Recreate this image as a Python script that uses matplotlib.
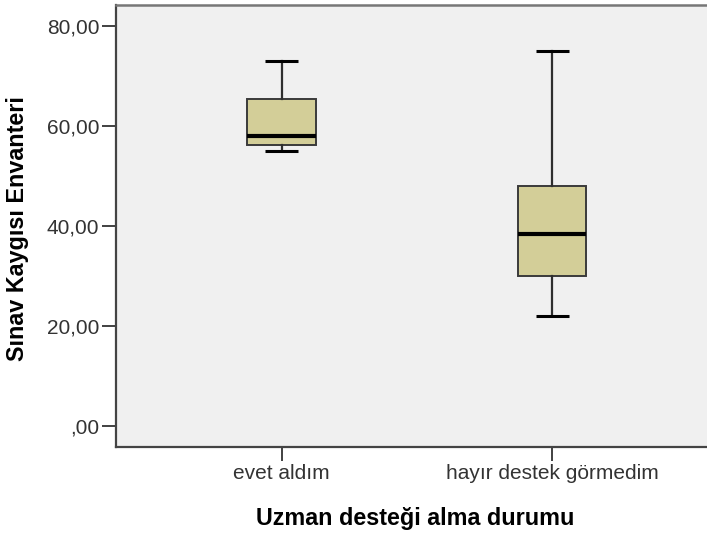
import matplotlib
matplotlib.use("Agg")
import matplotlib.pyplot as plt

categories = ["evet aldım", "hayır destek görmedim"]
whisker_low = [55.0, 22.0]
q1 = [56.2, 30.0]
median = [58.0, 38.5]
q3 = [65.4, 48.0]
whisker_high = [73.0, 75.0]
ytick_values = [0, 20, 40, 60, 80]
ytick_labels = [",00", "20,00", "40,00", "60,00", "80,00"]

plt.rcParams['font.family'] = ['Liberation Sans', 'DejaVu Sans']

W, H = 707, 536
fig = plt.figure(figsize=(W / 100, H / 100), dpi=100)
left, right, top, bottom = 116, 708, 5, 447
ax = fig.add_axes([left / W, 1 - bottom / H, (right - left) / W, (bottom - top) / H])
ax.set_facecolor("#F0F0F0")

stats = []
for i, c in enumerate(categories):
    stats.append(dict(label=c, med=median[i], q1=q1[i], q3=q3[i],
                      whislo=whisker_low[i], whishi=whisker_high[i], fliers=[]))

ax.bxp(stats, positions=[0, 1], widths=0.255, capwidths=0.122, patch_artist=True,
       showfliers=False,
       boxprops=dict(facecolor="#D3CE98", edgecolor="#3A3A3A", linewidth=1.4),
       medianprops=dict(color="black", linewidth=3.0, solid_capstyle="butt"),
       whiskerprops=dict(color="#2E2E2E", linewidth=1.6),
       capprops=dict(color="black", linewidth=2.2, solid_capstyle="butt"))

ax.set_xlim(-0.613, 1.577)
ax.set_ylim(-4.2, 84.2)
ax.set_yticks(ytick_values)
ax.set_yticklabels(ytick_labels)
ax.set_xticks([0, 1])
ax.set_xticklabels(categories)

for side in ["left", "bottom"]:
    ax.spines[side].set_color("#444444")
    ax.spines[side].set_linewidth(1.6)
ax.spines["top"].set_color("#777777")
ax.spines["top"].set_linewidth(1.8)
ax.spines["right"].set_visible(False)

ax.tick_params(axis="both", length=10, width=1.3, color="#333333",
               labelsize=15, labelcolor="#333333", pad=2)

fig.text(18 / W, 1 - 228.5 / H, "Sınav Kaygısı Envanteri", rotation=90,
         ha="center", va="center", fontsize=16.8, fontweight="bold", color="black")
fig.text(415.5 / W, 1 - 518 / H, "Uzman desteği alma durumu",
         ha="center", va="center", fontsize=16.8, fontweight="bold", color="black")

fig.savefig("out.png", dpi=100)
